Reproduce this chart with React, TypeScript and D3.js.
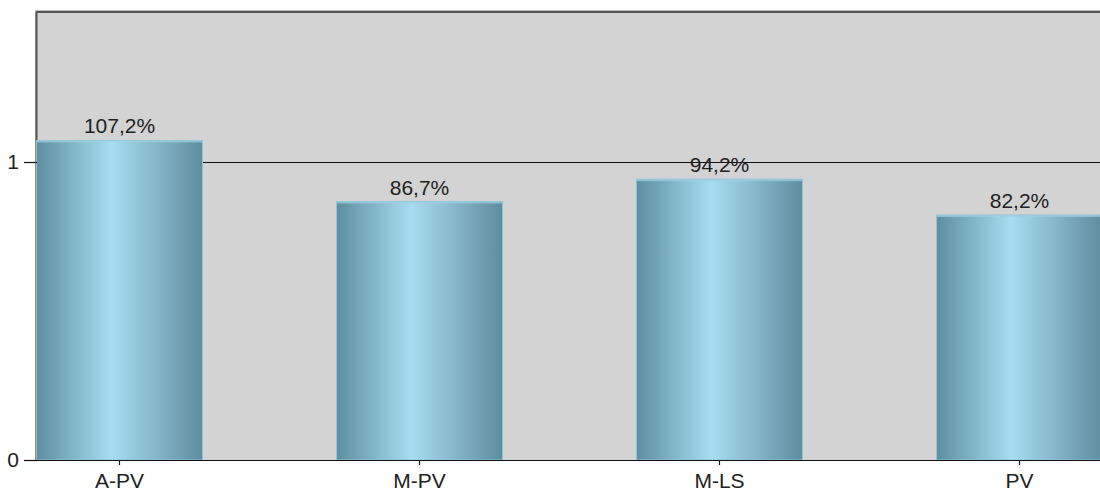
import React from "react";
import * as d3 from "d3";

const categories = ["A-PV", "M-PV", "M-LS", "PV"];
const values = [1.072, 0.867, 0.942, 0.822];
const valueLabels = ["107,2%", "86,7%", "94,2%", "82,2%"];
const yTicks = [0, 1];

const W = 1100;
const H = 491;
const plotLeft = 37;
const plotTop = 12;
const plotBottom = 460;
const plotRight = 1140;

export default function App() {
  const y = d3.scaleLinear().domain([0, 1.503]).range([plotBottom, plotTop]);
  const x = d3.scaleLinear().domain([0, 3]).range([119.5, 1019.5]);
  const barW = 166;
  const font = "'Liberation Sans', Arial, sans-serif";
  const fs = 21;

  return (
    <svg
      width={W}
      height={H}
      style={{ position: "absolute", left: 0, top: 0, display: "block" }}
    >
      <defs>
        <linearGradient id="barGrad" x1="0" x2="1" y1="0" y2="0">
          <stop offset="0%" stopColor="#5d8ea0" />
          <stop offset="45%" stopColor="#a9dcf1" />
          <stop offset="100%" stopColor="#5e8d9e" />
        </linearGradient>
      </defs>
      <rect x={0} y={0} width={W} height={H} fill="#ffffff" />
      <rect
        x={plotLeft}
        y={plotTop}
        width={plotRight - plotLeft}
        height={plotBottom - plotTop}
        fill="#d3d3d3"
      />
      <line x1={plotLeft - 1.5} x2={plotRight} y1={plotTop - 1.5} y2={plotTop - 1.5} stroke="#bdbdbd" strokeWidth={1} />
      <line x1={plotLeft - 1.5} x2={plotLeft - 1.5} y1={plotTop - 1.5} y2={plotBottom} stroke="#bdbdbd" strokeWidth={1} />
      <line x1={plotLeft - 1} x2={plotRight} y1={plotTop} y2={plotTop} stroke="#555" strokeWidth={2} />
      <line x1={plotLeft - 0.5} x2={plotLeft - 0.5} y1={plotTop} y2={plotBottom} stroke="#555" strokeWidth={2} />
      {yTicks.map((t) => (
        <line
          key={"g" + t}
          x1={plotLeft}
          x2={plotRight}
          y1={Math.round(y(t)) + 0.5}
          y2={Math.round(y(t)) + 0.5}
          stroke="#111"
          strokeWidth={1.2}
        />
      ))}
      {values.map((v, i) => {
        const x0 = x(i) - barW / 2;
        const top = y(v);
        return (
          <g key={"b" + i}>
            <rect
              x={x0}
              y={top}
              width={barW}
              height={plotBottom - top}
              fill="url(#barGrad)"
              stroke="#8dc4d8"
              strokeWidth={1}
            />
            <line x1={x0} x2={x0 + barW} y1={top + 1} y2={top + 1} stroke="#9fd0e2" strokeWidth={2} opacity={0.7} />
            <text
              x={x(i)}
              y={top - 7}
              textAnchor="middle"
              fontFamily={font}
              fontSize={fs}
              fill="#222"
            >
              {valueLabels[i]}
            </text>
          </g>
        );
      })}
      {yTicks.map((t) => (
        <g key={"yt" + t}>
          <line
            x1={24}
            x2={plotLeft}
            y1={Math.round(y(t)) + 0.5}
            y2={Math.round(y(t)) + 0.5}
            stroke="#111"
            strokeWidth={1.2}
          />
          <text
            x={19}
            y={y(t) + 7}
            textAnchor="end"
            fontFamily={font}
            fontSize={fs}
            fill="#222"
          >
            {t}
          </text>
        </g>
      ))}
      <line x1={plotLeft - 13} x2={plotRight} y1={plotBottom + 0.5} y2={plotBottom + 0.5} stroke="#111" strokeWidth={1.2} />
      {categories.map((c, i) => (
        <g key={"xt" + i}>
          <line
            x1={Math.round(x(i)) - 0.5}
            x2={Math.round(x(i)) - 0.5}
            y1={plotBottom}
            y2={plotBottom + 5}
            stroke="#111"
            strokeWidth={1.2}
          />
          <text
            x={x(i)}
            y={488}
            textAnchor="middle"
            fontFamily={font}
            fontSize={fs}
            fill="#222"
          >
            {c}
          </text>
        </g>
      ))}
    </svg>
  );
}
